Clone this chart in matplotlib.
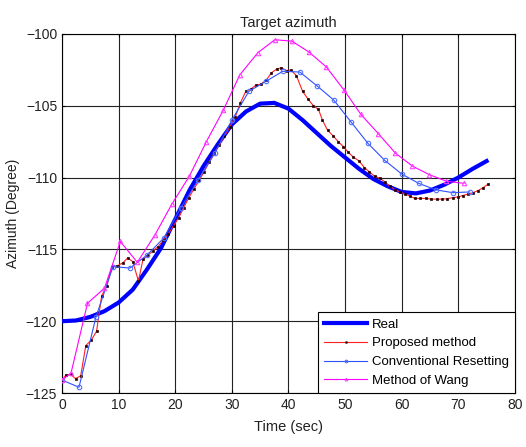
import matplotlib
matplotlib.use("Agg")
import matplotlib.pyplot as plt

plt.rcParams["font.family"] = ["Liberation Sans", "DejaVu Sans"]

# Real azimuth
real_t = [0, 2.5, 5, 7.5, 10, 12.5, 15, 17.5, 20, 22.5, 25, 27.5, 30, 32.5, 35,
          37.5, 40, 42.5, 45, 47.5, 50, 52.5, 55, 57.5, 60, 62.5, 65, 67.5, 70,
          72.5, 75]
real_y = [-120.0, -119.95, -119.7, -119.3, -118.7, -117.8, -116.4, -114.9,
          -112.9, -110.9, -109.2, -107.7, -106.3, -105.4, -104.85, -104.8,
          -105.2, -106.0, -106.9, -107.8, -108.6, -109.4, -110.1, -110.6,
          -111.0, -111.1, -110.9, -110.5, -110.0, -109.4, -108.85]

# Proposed method
prop_t = [0.0, 0.7, 1.5, 2.4, 3.3, 4.2, 5.2, 6.1, 7.0, 7.9, 8.8, 9.7, 10.7, 11.6,
          12.5, 13.5, 14.3, 15.2, 16.1, 17.0, 17.9, 18.8, 19.7, 20.6, 21.5, 22.4,
          23.3, 24.2, 25.1, 26.0, 26.9, 27.8, 28.7, 29.6, 30.6, 31.5, 32.5, 33.3,
          34.3, 35.1, 36.1, 37.0, 37.9, 38.7, 39.7, 40.4, 41.4, 42.5, 43.4, 44.4,
          45.3, 46.0, 46.9, 47.9, 48.8, 49.7, 50.6, 51.4, 52.5, 53.4, 54.3, 55.2,
          56.2, 57.0, 57.9, 58.8, 59.7, 60.6, 61.5, 62.3, 63.3, 64.3, 65.2, 66.2,
          67.1, 68.0, 69.0, 69.9, 70.8, 71.7, 72.6, 73.5, 74.4, 75.3]
prop_y = [-124.1, -123.75, -123.7, -124.0, -123.8, -121.7, -121.3, -120.7,
          -118.25, -117.55, -116.2, -116.15, -115.95, -115.6, -115.85, -117.2,
          -115.7, -115.4, -115.1, -114.8, -114.35, -113.9, -113.35, -112.8,
          -112.1, -111.4, -110.8, -110.2, -109.6, -108.9, -108.3, -107.7,
          -107.1, -106.5, -105.8, -104.8, -103.97, -103.85, -103.55, -103.5,
          -103.2, -102.7, -102.45, -102.35, -102.55, -102.5, -102.9, -104.0,
          -104.5, -105.0, -105.25, -106.0, -106.7, -107.1, -107.5, -107.85,
          -108.25, -108.55, -108.85, -109.3, -109.6, -109.9, -110.05, -110.3,
          -110.6, -110.85, -111.0, -111.15, -111.3, -111.45, -111.45, -111.45,
          -111.5, -111.5, -111.5, -111.47, -111.4, -111.35, -111.25, -111.15,
          -111.05, -110.9, -110.7, -110.45]

# Conventional resetting
conv_t = [0, 3, 6, 9, 12, 15, 18, 21, 24, 27, 30, 33, 36, 39, 42, 45, 48, 51,
          54, 57, 60, 63, 66, 69, 72]
conv_y = [-124.1, -124.6, -119.7, -116.2, -116.3, -115.4, -114.2, -112.1,
          -110.2, -108.3, -106.0, -104.0, -103.3, -102.6, -102.65, -103.6,
          -104.6, -106.1, -107.6, -108.8, -109.75, -110.4, -110.85, -111.05,
          -111.0]

# Method of Wang
wang_t = [0, 1.6, 4.5, 7.5, 10.3, 13.3, 16.4, 19.4, 22.5, 25.5, 28.5, 31.4,
          34.6, 37.6, 40.6, 43.6, 46.7, 49.8, 52.8, 55.9, 58.9, 61.9, 64.9,
          67.9, 71.0]
wang_y = [-124.1, -123.6, -118.75, -117.7, -114.45, -115.9, -114.0, -111.85,
          -109.9, -107.5, -105.3, -102.85, -101.3, -100.4, -100.5, -101.25,
          -102.3, -103.9, -105.6, -106.95, -108.3, -109.2, -109.8, -110.25,
          -110.4]

fig = plt.figure(figsize=(5.26, 4.47), dpi=100)
ax = fig.add_axes([0.1179, 0.1208, 0.861, 0.8032])

ax.plot(real_t, real_y, color="#0000ff", lw=3.0, label="Real", zorder=3)
ax.plot(prop_t, prop_y, color="#ff2020", lw=0.8, marker="s", ms=1.8,
        mfc="black", mec="#300000", mew=0.5, label="Proposed method", zorder=4)
ax.plot(conv_t, conv_y, color="#3050ff", lw=0.8, marker="o", ms=3.2,
        mfc="none", mec="#5070ff", mew=0.8, label="Conventional Resetting", zorder=4)
ax.plot(wang_t, wang_y, color="#ff00ff", lw=0.8, marker="^", ms=3.2,
        mfc="none", mec="#ff40ff", mew=0.8, label="Method of Wang", zorder=4)

ax.set_xlim(0, 80)
ax.set_ylim(-125, -100)
ax.set_xticks(range(0, 81, 10))
ax.set_yticks(range(-125, -99, 5))
ax.grid(True, color="#222222", lw=0.8, ls="-")
ax.tick_params(direction="in", length=2.5, top=True, right=True,
               labelsize=10, colors="black", labelcolor="#222222")
for s in ax.spines.values():
    s.set_color("black")
    s.set_linewidth(0.8)

ax.set_title("Target azimuth", fontsize=10.5, color="#222222", pad=5)
ax.set_xlabel("Time (sec)", fontsize=10.5, color="#222222", labelpad=6)
ax.set_ylabel("Azimuth (Degree)", fontsize=10, color="#222222", labelpad=4)

leg = ax.legend(loc="lower right", fontsize=9.5, fancybox=False,
                edgecolor="black", framealpha=1, handlelength=3.3,
                borderaxespad=0, labelspacing=0.5, borderpad=0.45,
                handletextpad=0.35, markerscale=0.6)
leg.get_frame().set_linewidth(0.8)

fig.savefig("out.png", dpi=100)
